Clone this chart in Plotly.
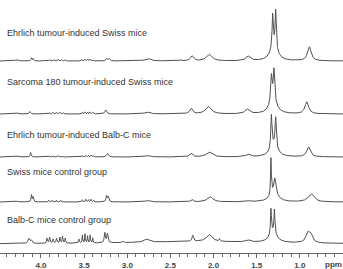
import numpy as np
import plotly.graph_objects as go

# Sample names (top to bottom)
labels = [
    "Ehrlich tumour-induced Swiss mice",
    "Sarcoma 180 tumour-induced Swiss mice",
    "Ehrlich tumour-induced Balb-C mice",
    "Swiss mice control group",
    "Balb-C mice control group",
]

# Peak lists: (ppm, intensity, half-width ppm)
peaks_ehrlich_swiss = [
    (4.28, 1.2, 0.02), (4.11, 3.0, 0.006), (4.09, 2.5, 0.006),
    (3.90, 1.2, 0.006), (3.85, 1.2, 0.006), (3.80, 1.5, 0.006), (3.76, 1.2, 0.006), (3.72, 1.2, 0.006),
    (3.53, 1.5, 0.005), (3.49, 1.8, 0.005), (3.46, 1.6, 0.005), (3.43, 1.8, 0.005), (3.40, 1.2, 0.005),
    (3.24, 2.5, 0.01), (3.21, 2.2, 0.01), (2.76, 2.5, 0.035), (2.37, 1.0, 0.004),
    (2.25, 5.0, 0.02), (2.05, 6.5, 0.04), (1.60, 4.5, 0.03),
    (1.315, 33.0, 0.008), (1.28, 38.0, 0.008), (1.30, 14.0, 0.05), (0.89, 14.0, 0.025),
]
peaks_sarcoma_swiss = [
    (4.28, 1.0, 0.02), (4.13, 2.5, 0.008),
    (3.90, 1.2, 0.006), (3.86, 1.6, 0.006), (3.82, 1.5, 0.006), (3.78, 1.8, 0.006), (3.74, 1.2, 0.006),
    (3.52, 1.6, 0.005), (3.49, 2.0, 0.005), (3.46, 1.8, 0.005), (3.43, 2.0, 0.005), (3.40, 1.5, 0.005),
    (3.25, 4.0, 0.012), (2.77, 2.0, 0.035), (2.26, 5.5, 0.02), (2.06, 7.5, 0.04), (1.61, 4.5, 0.03),
    (1.33, 26.0, 0.01), (1.30, 31.0, 0.01), (1.31, 13.0, 0.05), (0.92, 12.0, 0.025),
]
peaks_ehrlich_balbc = [
    (4.28, 1.0, 0.02), (4.12, 4.5, 0.006),
    (3.90, 1.0, 0.006), (3.86, 1.2, 0.006), (3.80, 1.2, 0.006), (3.76, 1.0, 0.006),
    (3.52, 1.2, 0.005), (3.48, 1.6, 0.005), (3.45, 1.6, 0.005), (3.42, 1.6, 0.005), (3.39, 1.2, 0.005),
    (3.23, 3.5, 0.012), (2.77, 1.5, 0.035), (2.26, 3.5, 0.02), (2.05, 5.0, 0.04), (1.60, 2.5, 0.03),
    (1.33, 33.0, 0.008), (1.28, 29.0, 0.008), (1.30, 12.0, 0.05), (0.90, 10.0, 0.025),
]
peaks_swiss_control = [
    (4.28, 0.8, 0.02), (4.11, 7.0, 0.006), (4.09, 5.0, 0.006),
    (3.91, 1.8, 0.005), (3.87, 1.8, 0.005), (3.82, 1.6, 0.005), (3.77, 1.6, 0.005),
    (3.52, 2.2, 0.005), (3.48, 2.6, 0.005), (3.45, 2.2, 0.005), (3.42, 2.6, 0.005), (3.39, 1.8, 0.005),
    (3.24, 6.0, 0.008), (3.22, 5.0, 0.008), (2.77, 1.5, 0.035), (2.25, 2.5, 0.015), (2.04, 5.0, 0.04),
    (1.60, 1.0, 0.03), (1.335, 36.0, 0.005), (1.29, 13.0, 0.012), (1.30, 11.0, 0.05),
    (0.88, 5.5, 0.04), (0.85, 3.5, 0.03),
]
peaks_balbc_control = [
    (4.14, 5.0, 0.012), (4.11, 3.0, 0.01), (3.93, 5.0, 0.006), (3.90, 6.0, 0.006),
    (3.86, 4.0, 0.006), (3.82, 5.0, 0.006), (3.78, 6.0, 0.005), (3.75, 7.0, 0.005), (3.72, 5.0, 0.005),
    (3.56, 4.0, 0.005), (3.52, 8.0, 0.004), (3.49, 9.0, 0.004), (3.46, 7.0, 0.004), (3.43, 8.0, 0.004),
    (3.40, 5.0, 0.004), (3.26, 10.0, 0.008), (3.23, 9.0, 0.008), (3.05, 1.5, 0.01), (2.78, 3.0, 0.035),
    (2.24, 6.0, 0.01), (2.05, 7.0, 0.04), (1.93, 2.5, 0.005), (1.60, 2.0, 0.03),
    (1.335, 25.0, 0.006), (1.295, 23.0, 0.006), (1.31, 11.0, 0.05),
    (0.91, 9.0, 0.025), (0.875, 8.0, 0.025), (2.2, 2.5, 0.9),
]
peak_lists = [peaks_ehrlich_swiss, peaks_sarcoma_swiss, peaks_ehrlich_balbc,
              peaks_swiss_control, peaks_balbc_control]

tick_values = [4.0, 3.5, 3.0, 2.5, 2.0, 1.5, 1.0]
tick_labels = ["4.0", "3.5", "3.0", "2.5", "2.0", "1.5", "1.0"]

# Layout (stack offsets, pixel-like units)
offsets = [192, 139, 96, 51, 9]
label_y = [220, 171, 118, 81, 33]

ppm = np.linspace(4.475, 0.5, 4000)

def spectrum(peaks):
    y = np.zeros_like(ppm)
    for c, h, w in peaks:
        y += h * w**2 / ((ppm - c) ** 2 + w**2)
    return y

fig = go.Figure()
line_color = "#505050"
for peaks, off in zip(peak_lists, offsets):
    fig.add_trace(go.Scatter(x=ppm, y=spectrum(peaks) + off, mode="lines",
                             line=dict(color=line_color, width=1), hoverinfo="skip",
                             showlegend=False))

for text, ly in zip(labels, label_y):
    fig.add_annotation(x=0.0, xref="paper", y=ly, yref="y", text=text, showarrow=False,
                       xanchor="left", yanchor="middle", xshift=5,
                       font=dict(family="Liberation Sans, Arial", size=9, color="#333333"))

fig.add_annotation(x=0.61, xref="x", y=0, yref="paper", text="ppm", showarrow=False,
                   xanchor="center", yanchor="top", yshift=-5,
                   font=dict(family="Liberation Sans, Arial", size=8, color="#444444", weight="bold"))

fig.update_xaxes(range=[4.475, 0.5], tickvals=tick_values, ticktext=tick_labels,
                 showgrid=False, zeroline=False, showline=True, linecolor="#666666", linewidth=1,
                 ticks="outside", ticklen=4, tickcolor="#666666",
                 minor=dict(dtick=0.1, tick0=0, ticks="outside", ticklen=2.5, tickcolor="#666666"),
                 tickfont=dict(family="Liberation Sans, Arial", size=8, color="#444444", weight="bold"))
fig.update_yaxes(range=[0, 253], visible=False, showgrid=False, zeroline=False)
fig.update_layout(width=343, height=269, margin=dict(l=0, r=0, t=0, b=16),
                  paper_bgcolor="white", plot_bgcolor="white")
fig.write_html("out.html")
